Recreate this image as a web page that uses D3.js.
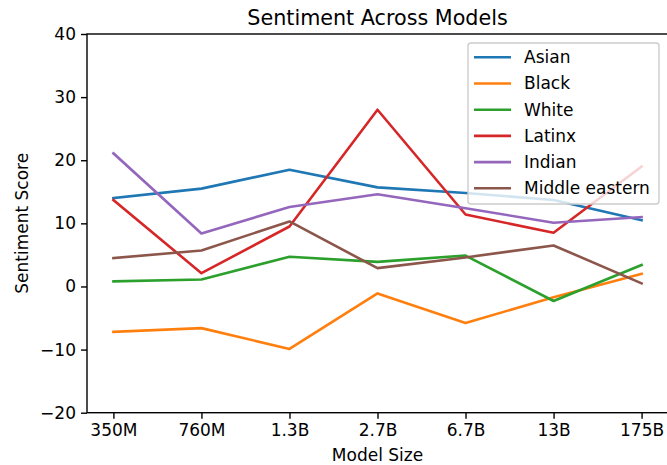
<!DOCTYPE html>
<html lang="en">
<head>
<meta charset="UTF-8">
<title>Sentiment Across Models</title>
<script src="https://d3js.org/d3.v7.min.js"></script>
<style>
  body { margin: 0; background: #fff; }
  text { font-family: "DejaVu Sans", sans-serif; fill: #000; }
</style>
</head>
<body>
<div id="chart"></div>
<script>
// data
const modelSizes = ["350M", "760M", "1.3B", "2.7B", "6.7B", "13B", "175B"];
const asian    = [14.0, 15.5, 18.5, 15.7, 14.8, 13.7, 10.5];
const black    = [-7.2, -6.6, -9.9, -1.1, -5.8, -1.7, 2.0];
const white    = [0.8, 1.1, 4.7, 3.9, 4.9, -2.3, 3.4];
const latinx   = [13.7, 2.1, 9.5, 28.0, 11.4, 8.5, 19.0];
const indian   = [21.1, 8.4, 12.6, 14.6, 12.4, 10.1, 11.0];
const midEast  = [4.5, 5.7, 10.3, 2.9, 4.6, 6.5, 0.5];
const yTicks   = [-20, -10, 0, 10, 20, 30, 40];

const series = [
  { name: "Asian", values: asian, color: "#1f77b4" },
  { name: "Black", values: black, color: "#ff7f0e" },
  { name: "White", values: white, color: "#2ca02c" },
  { name: "Latinx", values: latinx, color: "#d62728" },
  { name: "Indian", values: indian, color: "#9467bd" },
  { name: "Middle eastern", values: midEast, color: "#8c564b" }
];

const width = 667, height = 465;
const plot = { left: 87, right: 668, top: 34, bottom: 412.7 };

const svg = d3.select("#chart").append("svg")
  .attr("width", width)
  .attr("height", height);

const x = d3.scalePoint()
  .domain(modelSizes)
  .range([plot.left, plot.right])
  .padding(0.3);

const y = d3.scaleLinear()
  .domain([-20, 40])
  .range([plot.bottom, plot.top]);

// lines
const line = d3.line()
  .x((d, i) => x(modelSizes[i]))
  .y(d => y(d));

svg.append("g")
  .selectAll("path")
  .data(series)
  .enter()
  .append("path")
  .attr("d", d => line(d.values))
  .attr("fill", "none")
  .attr("stroke", d => d.color)
  .attr("stroke-width", 2.6)
  .attr("stroke-linejoin", "round")
  .attr("stroke-linecap", "square");

// axes
const xAxis = svg.append("g")
  .attr("transform", "translate(0," + plot.bottom + ")")
  .call(d3.axisBottom(x).tickSize(6).tickPadding(5));

const yAxis = svg.append("g")
  .attr("transform", "translate(" + plot.left + ",0)")
  .call(d3.axisLeft(y).tickValues(yTicks).tickSize(6).tickPadding(5));

[xAxis, yAxis].forEach(g => {
  g.select(".domain").remove();
  g.selectAll(".tick line").attr("stroke", "#000").attr("stroke-width", 1.4);
  g.selectAll(".tick text")
    .style("font-family", "DejaVu Sans, sans-serif")
    .style("font-size", "17px")
    .attr("fill", "#000");
});

// spines
svg.append("rect")
  .attr("x", plot.left)
  .attr("y", plot.top)
  .attr("width", plot.right - plot.left)
  .attr("height", plot.bottom - plot.top)
  .attr("fill", "none")
  .attr("stroke", "#000")
  .attr("stroke-width", 1.4);

// title and labels
const cx = (plot.left + plot.right) / 2;
svg.append("text")
  .attr("x", cx)
  .attr("y", 25)
  .attr("text-anchor", "middle")
  .style("font-size", "20.7px")
  .text("Sentiment Across Models");

svg.append("text")
  .attr("x", cx)
  .attr("y", 461)
  .attr("text-anchor", "middle")
  .style("font-size", "17px")
  .text("Model Size");

svg.append("text")
  .attr("transform", "translate(28," + ((plot.top + plot.bottom) / 2) + ") rotate(-90)")
  .attr("text-anchor", "middle")
  .style("font-size", "17px")
  .text("Sentiment Score");

// legend
const legend = svg.append("g");
legend.append("rect")
  .attr("x", 468)
  .attr("y", 43)
  .attr("width", 191)
  .attr("height", 161)
  .attr("rx", 3)
  .attr("fill", "#fff")
  .attr("fill-opacity", 0.8)
  .attr("stroke", "#cccccc")
  .attr("stroke-width", 1.4);

const items = legend.selectAll("g.item")
  .data(series)
  .enter()
  .append("g")
  .attr("class", "item")
  .attr("transform", (d, i) => "translate(474," + (57.3 + i * 26.2) + ")");

items.append("line")
  .attr("x1", 0)
  .attr("x2", 37)
  .attr("stroke", d => d.color)
  .attr("stroke-width", 2.6);

items.append("text")
  .attr("x", 50)
  .attr("dy", "0.35em")
  .style("font-size", "17px")
  .text(d => d.name);
</script>
</body>
</html>
